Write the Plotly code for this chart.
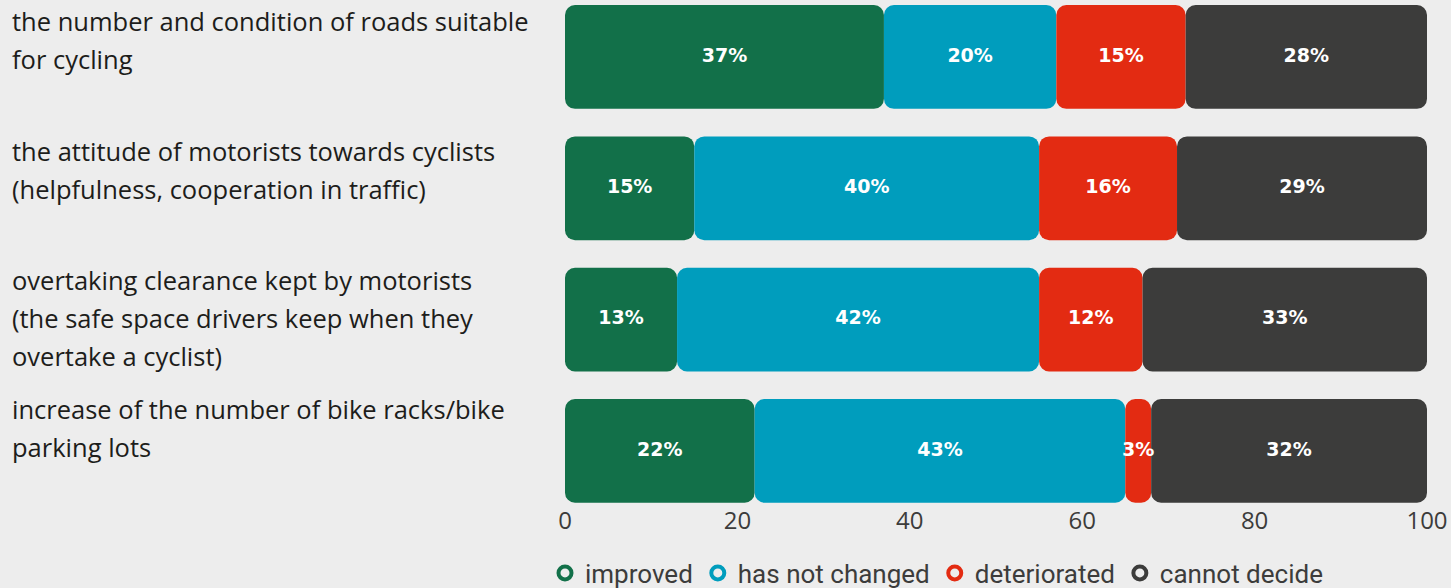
import plotly.graph_objects as go
import numpy as np

categories = [
    "the number and condition of roads suitable<br>for cycling",
    "the attitude of motorists towards cyclists<br>(helpfulness, cooperation in traffic)",
    "overtaking clearance kept by motorists<br>(the safe space drivers keep when they<br>overtake a cyclist)",
    "increase of the number of bike racks/bike<br>parking lots",
]
series_names = ["improved", "has not changed", "deteriorated", "cannot decide"]
improved = [37, 15, 13, 22]
not_changed = [20, 40, 42, 43]
deteriorated = [15, 16, 12, 3]
cannot_decide = [28, 29, 33, 32]
colors = ["#127049", "#009dbd", "#e32b12", "#3c3c3b"]
x_ticks = [0, 20, 40, 60, 80, 100]

BG = "#ededed"
BAR_W = 0.79
RADIUS = 10
PLOT_H = 506  # height of plot area in px (margin top 0)

fig = go.Figure()
values = [improved, not_changed, deteriorated, cannot_decide]
start = np.zeros(len(categories))
for name, vals, col in zip(series_names, values, colors):
    v = np.array(vals, dtype=float)
    mid = start + v / 2
    fig.add_trace(go.Bar(
        y=categories, x=v, base=start, orientation="h", name=name,
        width=BAR_W, marker=dict(color=col, cornerradius=RADIUS, line=dict(width=0)),
        showlegend=False, hoverinfo="skip", legendgroup=name,
    ))
    fig.add_trace(go.Scatter(
        y=categories, x=mid, mode="text", text=[f"{int(t)}%" for t in vals],
        textposition="middle center",
        textfont=dict(color="white", size=19, family="DejaVu Sans", weight="bold"),
        showlegend=False, hoverinfo="skip",
    ))
    fig.add_trace(go.Scatter(
        x=[None], y=[None], mode="markers", name=name, legendgroup=name,
        marker=dict(symbol="circle-open", size=13, color=col, line=dict(width=4, color=col)),
    ))
    start = start + v

annotations = []
for i, cat in enumerate(categories):
    lines = cat.split("<br>")
    for j, line in enumerate(lines):
        ypx = 21.5 + 129.3 * i + 38 * j
        annotations.append(dict(
            x=0, xref="paper", xanchor="left", xshift=-555,
            y=1 - ypx / PLOT_H, yref="paper", yanchor="middle",
            text=line, showarrow=False, align="left",
            font=dict(family="Open Sans", size=25.5, color="#1d1d1b"),
        ))

fig.update_layout(
    barmode="overlay",
    width=1451, height=588,
    paper_bgcolor=BG, plot_bgcolor=BG,
    margin=dict(l=565, r=24, t=0, b=588 - PLOT_H, autoexpand=False),
    annotations=annotations,
    showlegend=True,
    legend=dict(
        orientation="h", xref="container", x=545 / 1451, xanchor="left",
        yref="container", y=1 - 573 / 588, yanchor="middle",
        font=dict(family="Roboto", size=26, color="#3c3c3b"),
        itemwidth=30, bgcolor="rgba(0,0,0,0)",
    ),
    xaxis=dict(
        range=[0, 100], tickvals=x_ticks, showgrid=False, zeroline=False,
        showline=False, ticks="", ticklabelstandoff=-2,
        tickfont=dict(family="Open Sans", size=24, color="#3c3c3b"),
        fixedrange=True,
    ),
    yaxis=dict(
        range=[3.42, -0.434], showticklabels=False, showgrid=False,
        zeroline=False, showline=False, fixedrange=True,
        categoryorder="array", categoryarray=categories,
    ),
)

fig.write_html("out.html", config={"displayModeBar": False},
               post_script="document.body.style.margin='0';")
